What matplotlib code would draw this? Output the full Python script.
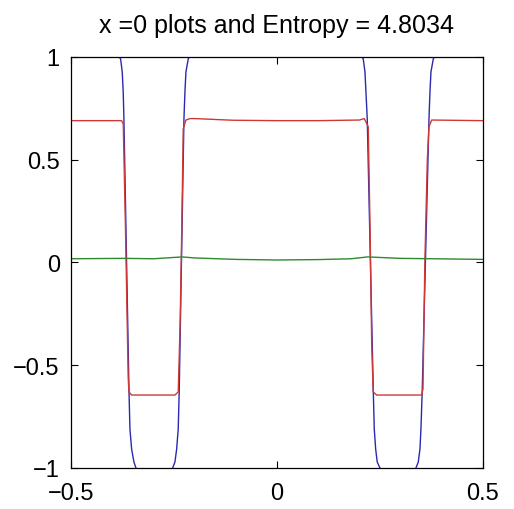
import matplotlib
matplotlib.use("Agg")
import matplotlib.pyplot as plt
import numpy as np

# Blue curve (runs off the axes outside/inside the wells; clipped by the axes)
blue_x = [-0.50, -0.400, -0.388, -0.3852, -0.3794, -0.3755, -0.3731, -0.3714,
          -0.3592, -0.3568, -0.3527, -0.3471, -0.3422, -0.340, -0.330,
          -0.265, -0.255, -0.2532, -0.2476, -0.2434, -0.2396, -0.2371,
          -0.2257, -0.2233, -0.2209, -0.2153, -0.2112, -0.208, -0.196,
          0.194, 0.203, 0.2056, 0.2095, 0.2136, 0.2160, 0.2192,
          0.2337, 0.2362, 0.2396, 0.2434, 0.2500, 0.252, 0.262,
          0.325, 0.335, 0.3374, 0.3430, 0.3471, 0.3495, 0.3527,
          0.3690, 0.3714, 0.3738, 0.3794, 0.3835, 0.386, 0.398, 0.50]
blue_y = [1.50, 1.50, 1.03, 1.005, 0.990, 0.927, 0.830, 0.698,
          -0.616, -0.810, -0.908, -0.971, -1.000, -1.030, -1.50,
          -1.50, -1.030, -1.000, -0.971, -0.908, -0.810, -0.616,
          0.698, 0.830, 0.927, 0.990, 1.005, 1.03, 1.50,
          1.50, 1.03, 1.005, 0.990, 0.927, 0.830, 0.698,
          -0.616, -0.810, -0.908, -0.971, -1.000, -1.030, -1.50,
          -1.50, -1.030, -1.000, -0.971, -0.908, -0.810, -0.616,
          0.698, 0.830, 0.927, 0.990, 1.005, 1.03, 1.50, 1.50]

# Red curve
red_x = [-0.50, -0.377, -0.373, -0.3676, -0.3610, -0.3592, -0.3527,
         -0.2476, -0.2396, -0.2350, -0.2310, -0.2274, -0.2209, -0.2112,
         -0.1990, -0.1070, 0.00, 0.10, 0.2000, 0.2120, 0.2216, 0.2260,
         0.2300, 0.2337, 0.2420, 0.3512, 0.3544, 0.3590, 0.3650, 0.3690,
         0.3755, 0.50]
red_y = [0.690, 0.690, 0.674, 0.163, -0.560, -0.630, -0.645,
         -0.645, -0.630, -0.300, 0.163, 0.650, 0.693, 0.700,
         0.700, 0.692, 0.690, 0.690, 0.693, 0.700, 0.660, 0.163,
         -0.400, -0.630, -0.645, -0.645, -0.616, 0.002, 0.503, 0.660,
         0.693, 0.690]

# Green curve (nearly flat)
green_x = [-0.50, -0.37, -0.30, -0.23, -0.20, -0.10, 0.00, 0.10, 0.18, 0.22, 0.30, 0.50]
green_y = [0.018, 0.020, 0.018, 0.027, 0.022, 0.015, 0.012, 0.014, 0.018, 0.027, 0.020, 0.015]

title = "x =0 plots and Entropy = 4.8034"

plt.rcParams['font.family'] = ['Liberation Sans', 'DejaVu Sans']

fig = plt.figure(figsize=(5.14, 5.10), dpi=100)
ax = fig.add_axes([0.138, 0.0804, 0.8016, 0.806])

ax.plot(blue_x, blue_y, color='#2a2ab0', lw=1.0)
ax.plot(red_x, red_y, color='#d03838', lw=1.0)
ax.plot(green_x, green_y, color='#2e8a2e', lw=1.0)

ax.set_xlim(-0.5, 0.5)
ax.set_ylim(-1, 1)
ax.set_xticks([-0.5, 0, 0.5])
ax.set_xticklabels(['\u22120.5', '0', '0.5'])
ax.set_yticks([-1, -0.5, 0, 0.5, 1])
ax.set_yticklabels(['\u22121', '\u22120.5', '0', '0.5', '1'])
ax.tick_params(direction='in', length=5, width=0.8, top=True, right=True,
               labelsize=17)
ax.tick_params(axis='x', pad=10)
ax.tick_params(axis='y', pad=8)
for s in ax.spines.values():
    s.set_linewidth(0.9)
ax.set_title(title, fontsize=18, pad=18)

fig.savefig('out.png', dpi=100)
